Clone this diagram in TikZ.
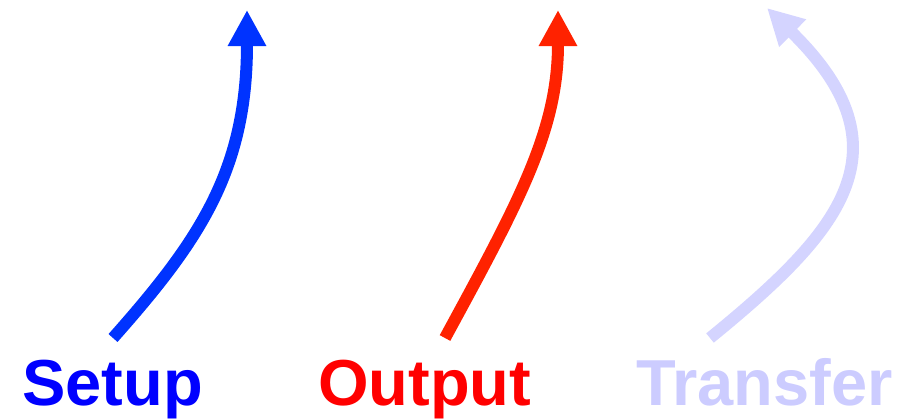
\documentclass[tikz,border=0pt]{standalone}
\usepackage{fontspec}
\setmainfont{Liberation Sans}
\usetikzlibrary{arrows.meta}
\definecolor{setupblue}{RGB}{0,0,255}
\definecolor{setuparrow}{RGB}{0,51,255}
\definecolor{outputred}{RGB}{255,0,0}
\definecolor{outputarrow}{RGB}{255,34,0}
\definecolor{transferlilac}{RGB}{204,204,255}
\definecolor{transferarrow}{RGB}{212,212,255}
\tikzset{
  label/.style={font=\fontsize{65}{78}\selectfont\bfseries, inner sep=0pt, anchor=base west},
  bigarrow/.style={line width=12pt, -{Triangle[length=36pt,width=36pt]}},
}
\begin{document}
\begin{tikzpicture}[x=1pt,y=-1pt]
\useasboundingbox (0,0) rectangle (905,418);
% labels
\node[label, text=setupblue] (setup) at (22,405) {Setup};
\node[label, text=outputred] (output) at (318,405) {Output};
\node[label, text=transferlilac] (transfer) at (636,405) {Transfer};
% arrow end points
\coordinate (s0) at (113,338);
\coordinate (s1) at (247,10);
\coordinate (o0) at (445,338);
\coordinate (o1) at (558,10);
\coordinate (t0) at (710,338);
\coordinate (t1) at (767,8);
% arrows
\draw[bigarrow, setuparrow] (s0) .. controls (200,240) and (247,170) .. (s1);
\draw[bigarrow, outputarrow] (o0) .. controls (520,200) and (558,130) .. (o1);
\draw[bigarrow, transferarrow] (t0) .. controls (840,232) and (912,150) .. (t1);
\end{tikzpicture}
\end{document}
